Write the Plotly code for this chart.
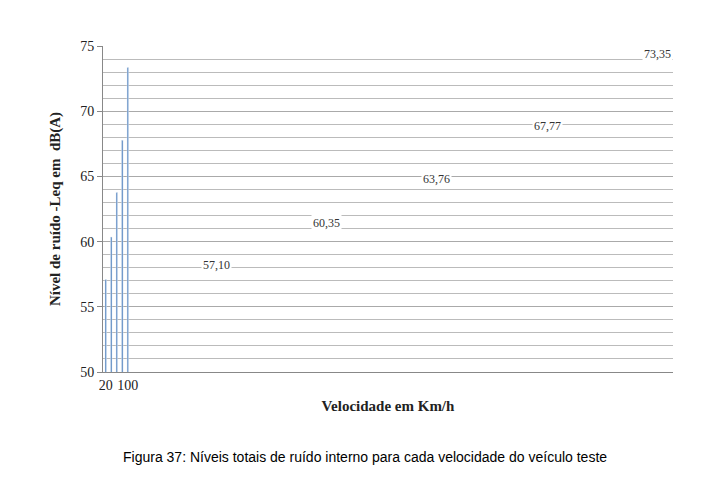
import plotly.graph_objects as go

categories = ["20", "40", "60", "80", "100"]
values = [57.10, 60.35, 63.76, 67.77, 73.35]
labels = ["57,10", "60,35", "63,76", "67,77", "73,35"]

fig = go.Figure()
fig.add_trace(go.Bar(x=categories, y=values, width=0.27, marker_color="#4F81BD",
                     base=0, showlegend=False))
for c, v, t in zip(categories, values, labels):
    fig.add_annotation(x=c, y=v, text=t, showarrow=False, yshift=14,
                       bgcolor="white", font=dict(family="Liberation Serif", size=12, color="#333"))
fig.add_annotation(xref="paper", yref="paper", x=0.46, y=-0.29, showarrow=False,
                   text="Figura 37: Níveis totais de ruído interno para cada velocidade do veículo teste",
                   font=dict(family="Liberation Sans", size=14, color="black"), xanchor="center")
fig.update_layout(
    width=709, height=479, margin=dict(l=95, r=44, t=38, b=115),
    plot_bgcolor="white", paper_bgcolor="white",
    font=dict(family="Liberation Serif", size=14, color="#222"),
    xaxis=dict(type="category", title=dict(text="<b>Velocidade em Km/h</b>", font=dict(size=15), standoff=8),
               showline=True, linecolor="#888"),
    yaxis=dict(title=dict(text="<b>Nível de ruído -Leq em  dB(A)</b>", font=dict(size=15)),
               range=[50, 75], dtick=5, showline=True, linecolor="#888", ticks="outside",
               ticklen=5, tickcolor="#888", gridcolor="#aaa",
               minor=dict(dtick=1, showgrid=True, gridcolor="#bbb")),
)
fig.write_html("out.html")
